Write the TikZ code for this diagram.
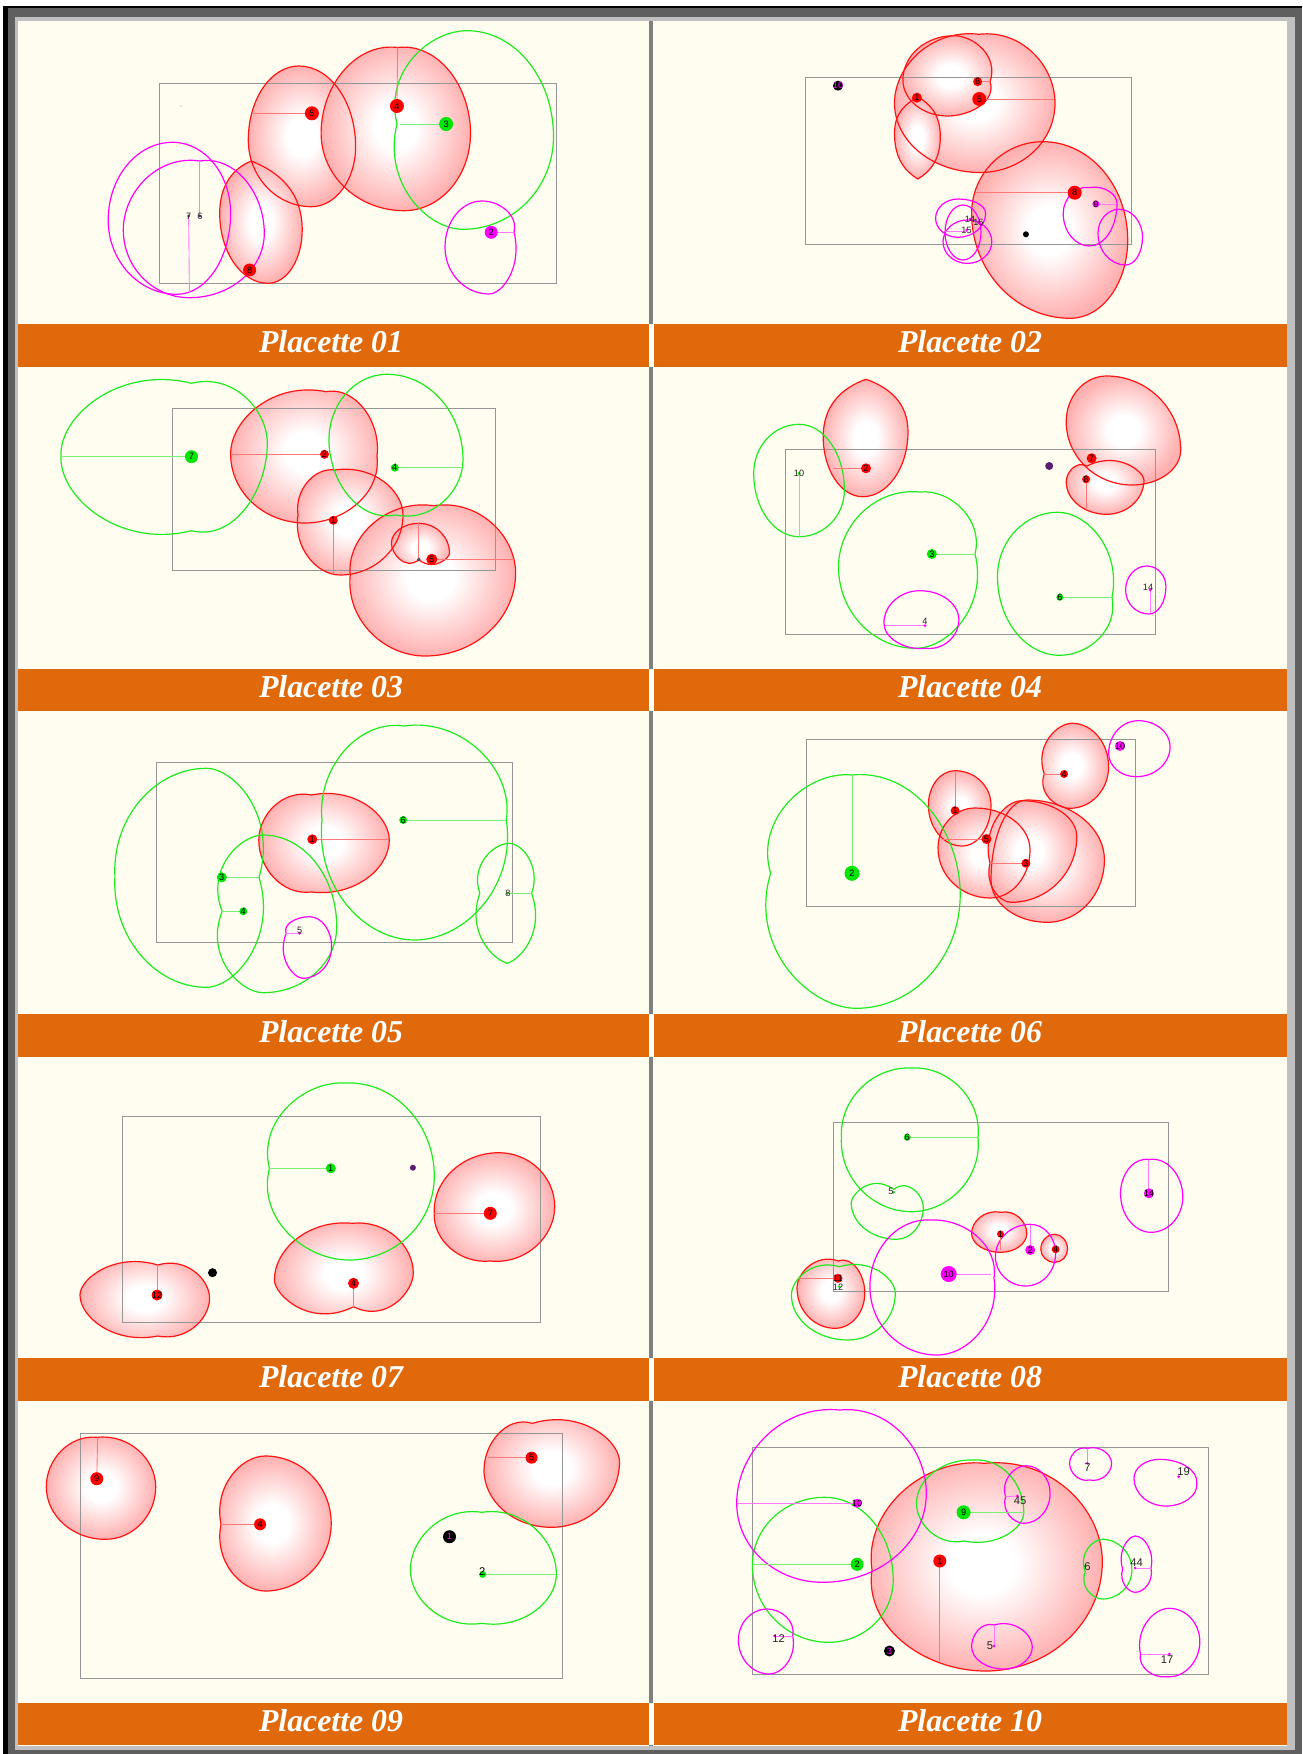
\documentclass[tikz,border=0pt]{standalone}
\usepackage{fontspec}
\setmainfont{Liberation Serif}
\newfontfamily\lblfont{Liberation Sans}
\definecolor{cream}{RGB}{255,253,240}
\definecolor{barorange}{RGB}{224,106,11}
\definecolor{crownpink}{RGB}{255,176,176}
\definecolor{gline}{RGB}{30,235,30}
\definecolor{mline}{RGB}{255,0,255}
\definecolor{rline}{RGB}{255,20,20}
\definecolor{rrad}{RGB}{255,120,120}
\definecolor{grad}{RGB}{120,240,120}
\definecolor{mrad}{RGB}{255,120,255}
\definecolor{boxgrey}{RGB}{150,150,150}
\definecolor{darkframe}{RGB}{95,95,95}
\definecolor{lightframe}{RGB}{192,192,192}
\definecolor{divgrey}{RGB}{128,128,128}
\definecolor{dotgreen}{RGB}{0,230,0}
\definecolor{dotpurple}{RGB}{90,30,110}
\pgfdeclareradialshading{crownsh}{\pgfpoint{0bp}{0bp}}{color(0bp)=(white); color(7bp)=(white); color(25bp)=(crownpink); color(50bp)=(crownpink)}
\def\kk{0.5523}
\newcommand\setnotch[4]{\gdef\tT{#1}\gdef\tR{#2}\gdef\tB{#3}\gdef\tL{#4}}
\setnotch{0}{0}{0}{0}
\def\blob#1(#2,#3)(#4,#5)(#6,#7)(#8,#9){%
  \path[#1] (#2,#3)
   .. controls ({#2+\kk*(#4-#2)},{#3-\tT*\kk*(#4-#2)}) and ({#4+\tR*\kk*(#5-#3)},{#5-\kk*(#5-#3)}) .. (#4,#5)
   .. controls ({#4+\tR*\kk*(#7-#5)},{#5+\kk*(#7-#5)}) and ({#6+\kk*(#4-#6)},{#7+\tB*\kk*(#4-#6)}) .. (#6,#7)
   .. controls ({#6-\kk*(#6-#8)},{#7+\tB*\kk*(#6-#8)}) and ({#8-\tL*\kk*(#7-#9)},{#9+\kk*(#7-#9)}) .. (#8,#9)
   .. controls ({#8-\tL*\kk*(#9-#3)},{#9-\kk*(#9-#3)}) and ({#2-\kk*(#2-#8)},{#3-\tT*\kk*(#2-#8)}) .. (#2,#3) -- cycle;%
  \setnotch{0}{0}{0}{0}}
% dot: #1 fill, #2 x, #3 y, #4 radius, #5 text, #6 text colour, #7 name
\newcommand\dt[7]{\fill[#1] (#2,#3) circle[radius=#4]; \node[lbl, text=#6] (#7) at (#2,#3) {#5};}
% tiny dot with label: [#1 label style] #2 colour, #3 x, #4 y, #5 lx, #6 ly, #7 text, #8 name
\newcommand\td[8][lbl]{\fill[#2] (#3,#4) circle[radius=1.5]; \node[#1, text=black!85] (#8) at (#5,#6) {#7};}
\tikzset{
 rf/.style={shade, shading=crownsh},
 rl/.style={draw=rline, line width=0.6pt},
 gl/.style={draw=gline, line width=0.6pt},
 ml/.style={draw=mline, line width=0.6pt},
 rrl/.style={draw=rrad, line width=0.45pt},
 grl/.style={draw=grad, line width=0.45pt},
 mrl/.style={draw=mrad, line width=0.45pt},
 plotbox/.style={draw=boxgrey, line width=0.5pt},
 lbl/.style={font=\lblfont\fontsize{4.6}{5}\selectfont, inner sep=0pt},
 bigl/.style={font=\lblfont\fontsize{5.6}{6}\selectfont, inner sep=0pt},
 titletext/.style={font=\bfseries\itshape\fontsize{15.9}{18}\selectfont, text=white, anchor=base, inner sep=0pt},
}
\newcommand\RedA{%
\blob{cur}(298.8,66)(355.6,146.7)(311.4,206.7)(248.3,140)%
\setnotch{0.12}{0}{0}{0}\blob{cur}(397.7,47.5)(470.5,133.3)(404,210.7)(321.1,133.3)%
\setnotch{-0.4}{0}{0}{0}\blob{cur}(251.3,161)(302.2,230)(268.1,283.3)(219.7,213.3)}
\newcommand\RedB{%
\setnotch{0.12}{0}{0}{0}\blob{cur}(979,34.3)(1055,103.3)(980,172.5)(894.5,103.3)%
\setnotch{0}{0.35}{0}{0}\blob{cur}(953.8,35.7)(990,81.7)(947.5,116)(902.9,80)%
\setnotch{-0.6}{0}{-0.6}{0}\blob{cur}(917.8,96.7)(940.3,136.7)(917.8,179)(894.5,133.3)%
\blob{cur}(1043,141.7)(1127.7,240)(1070.4,318.3)(971.6,213.3)}
\newcommand\RedC{%
\setnotch{0.2}{0.12}{0}{0}\blob{cur}(326,391.7)(377,456)(305,523)(230.6,454)%
\setnotch{0.15}{0}{0}{0.15}\blob{cur}(335,470)(403,515)(340,575)(298,515)%
\setnotch{0.15}{0}{0}{0.1}\blob{cur}(433.5,505.7)(515.6,573)(425,656)(350.2,575)%
\setnotch{0}{0}{0.7}{0}\blob{cur}(418.8,523.3)(449.5,553.3)(418.8,560)(391.4,543.3)}
\newcommand\RedD{%
\setnotch{-0.35}{0}{0}{0}\blob{cur}(866,379.3)(908,431.7)(862.6,496.7)(823.2,436.7)%
\blob{cur}(1106.5,376)(1180.7,450)(1132,485)(1066.2,421.7)%
\setnotch{0.5}{0}{0}{0}\blob{cur}(1087,466)(1144,480)(1106.5,514.3)(1066.2,481.7)}
\newcommand\RedE{%
\setnotch{0.2}{0}{0.12}{0}\blob{cur}(311.4,795)(389.3,840)(311.4,892)(258.8,840)}
\newcommand\RedF{%
\blob{cur}(955,770.7)(991,805)(962,846)(928.4,805)%
\blob{cur}(975,808)(1030,850)(990,898)(938,848)%
\blob{cur}(1027,800)(1104.4,860)(1047.1,922.3)(991,880)%
\setnotch{0}{0}{0}{0.25}\blob{cur}(1021.7,800.7)(1076.8,836.7)(1011.1,902.3)(990,863.3)%
\setnotch{0}{0}{0}{0.35}\blob{cur}(1072,723.3)(1108.6,766.7)(1070,808.3)(1044.2,774)}
\newcommand\RedG{%
\setnotch{0}{0}{0.1}{0.05}\blob{cur}(498.7,1152.7)(554.7,1206.7)(490.3,1261)(434.3,1213.3)%
\setnotch{0.1}{0}{0.5}{0}\blob{cur}(352.7,1223.3)(413.3,1273)(353.5,1306.7)(274.4,1280)%
\setnotch{0.3}{0}{0.2}{0}\blob{cur}(157.8,1265)(209.6,1298)(157.8,1336)(80,1295)}
\newcommand\RedH{%
\setnotch{0.2}{0}{0}{0}\blob{cur}(1000.5,1212.3)(1026.8,1233.3)(1000.5,1252.3)(971.6,1233.3)%
\blob{cur}(1054.8,1234.3)(1067.5,1249.3)(1054.8,1262.3)(1040.8,1249.3)%
\setnotch{0.35}{0}{0}{0}\blob{cur}(838.5,1261)(864.8,1293)(835,1328.3)(797,1288)}
\newcommand\RedI{%
\setnotch{0.1}{0}{0}{0}\blob{cur}(97.6,1437.3)(155.7,1486.7)(105.2,1539.3)(46.3,1486.7)%
\setnotch{0}{0}{0}{0.2}\blob{cur}(265.2,1456)(331.2,1523.3)(265.2,1591)(221,1524.3)%
\setnotch{0.3}{0}{0}{0}\blob{cur}(532.4,1423.3)(619.5,1461.7)(551.3,1527.3)(484,1470)}
\newcommand\RedJ{%
\setnotch{0.1}{0}{0}{0.15}\blob{cur}(985,1463.3)(1102.3,1561.7)(985.6,1671)(872,1570)}
\begin{document}
\begin{tikzpicture}[x=0.5pt,y=-0.5pt]
\useasboundingbox (0,0) rectangle (1302,1754);
% frame
\fill[white] (0,0) rectangle (1302,1754);
\fill[black] (3.4,6) rectangle (1302,1754);
\fill[darkframe] (7.6,8.3) rectangle (1302,1754);
\fill[lightframe] (14.7,16.7) rectangle (1295.2,1750);
\fill[cream] (17.7,20.7) rectangle (1286.7,1746);
\fill[divgrey] (648.5,20.7) rectangle (652.7,1746);
\foreach \bt/\k in {324/0,668.7/1,1014/2,1358.3/3,1702.7/4}{
  \fill[white] (648.5,\bt) rectangle (653.5,\bt+42.7);
  \fill[barorange] (17.7,\bt) rectangle (648.5,\bt+42.7);
  \fill[barorange] (653.5,\bt) rectangle (1286.7,\bt+42.7);
}
\node[titletext] (t01) at (331,352.7) {Placette 01};
\node[titletext] (t02) at (970,352.7) {Placette 02};
\node[titletext] (t03) at (331,697.4) {Placette 03};
\node[titletext] (t04) at (970,697.4) {Placette 04};
\node[titletext] (t05) at (331,1042.7) {Placette 05};
\node[titletext] (t06) at (970,1042.7) {Placette 06};
\node[titletext] (t07) at (331,1387) {Placette 07};
\node[titletext] (t08) at (970,1387) {Placette 08};
\node[titletext] (t09) at (331,1731.4) {Placette 09};
\node[titletext] (t10) at (970,1731.4) {Placette 10};
% ---------- Panel 1
\begin{scope}
\clip (17.7,20.7) rectangle (648.5,324);
\tikzset{cur/.style=rf}\RedA
\draw[plotbox] (159.5,84) rectangle (556.8,283.3);
\tikzset{cur/.style=rl}\RedA
\setnotch{0}{0}{0}{0.25}\blob{gl}(467.2,30.7)(553.5,136.7)(463,229.3)(397,124)
\setnotch{0}{0.25}{0}{0}\blob{ml}(482,201)(514,232.3)(489,294)(445,247)
\blob{ml}(172.6,142.3)(230.6,213.3)(176.8,294.3)(108.2,220)
\setnotch{0.15}{0}{0}{0}\blob{ml}(199.9,161)(264.3,233.3)(189.4,297.7)(123.3,230)
\draw[rrl] (311.9,113.3) -- (252.5,113.3);
\draw[rrl] (396.9,106) -- (397.7,47.5);
\draw[grl] (446.1,124) -- (399.8,124);
\draw[mrl] (491.2,232.3) -- (514,232.3);
\draw[mrl] (199.9,216) -- (199.9,161);
\draw[mrl] (188.6,216) -- (189.4,293.3);
\dt{red}{311.9}{113.3}{7}{5}{black}{p1n5}
\dt{red}{396.9}{106}{7}{4}{black}{p1n4}
\dt{dotgreen}{446.1}{124}{7}{3}{black}{p1n3}
\dt{mline}{491.2}{232.3}{6.5}{2}{black}{p1n2}
\dt{red}{249.6}{270}{6.5}{8}{black}{p1n8}
\td{dotpurple}{188.6}{216}{188.6}{216}{7}{p1n7}
\td{dotpurple}{199.9}{216}{199.9}{216}{6}{p1n6}
\fill[black!40] (181,106) circle[radius=0.6];
\end{scope}
% ---------- Panel 2
\begin{scope}
\clip (653.5,20.7) rectangle (1286.7,324);
\tikzset{cur/.style=rf}\RedB
\draw[plotbox] (805,77.7) rectangle (1131.5,244.3);
\tikzset{cur/.style=rl}\RedB
\blob{ml}(958,199)(985.6,213.3)(958,237.3)(935.6,218.3)
\blob{ml}(963,205)(981,232.3)(963,260)(945,232.3)
\blob{ml}(967.4,220)(991.8,241.7)(967.4,263.4)(943,241.7)
\setnotch{0.15}{0}{0}{0}\blob{ml}(1090,187.5)(1117,203.3)(1089.5,246)(1063.2,213.3)
\blob{ml}(1119.2,209.3)(1142.5,237.3)(1125.6,265)(1098,233.3)
\draw[rrl] (977.6,81.7) -- (990,81.7);
\draw[rrl] (979.3,99) -- (1053.5,99);
\draw[rrl] (1074.7,192.7) -- (975,192.7);
\draw[mrl] (1095.9,204) -- (1115,204);
\draw[mrl] (966.5,231) -- (945.3,231);
\dt{black}{838}{85.7}{5}{10}{mline}{p2n10}
\dt{red}{977.6}{81.7}{4.5}{6}{black}{p2n6}
\dt{red}{979.3}{99}{7}{5}{black}{p2n5}
\dt{red}{916.9}{97.7}{5}{1}{black}{p2n1}
\dt{red}{1074.7}{192.7}{7}{8}{black}{p2n8}
\dt{mline}{1095.9}{204}{3.5}{9}{black}{p2n9}
\dt{black}{1025.9}{234.3}{3}{}{black}{p2n0}
\td{mline}{970}{219}{970}{219}{14}{p2n14}
\td{mline}{978.4}{222.7}{978.4}{222.7}{16}{p2n16}
\td{mline}{966.5}{230}{966.5}{230}{15}{p2n15}
\end{scope}
% ---------- Panel 3
\begin{scope}
\clip (17.7,366.7) rectangle (648.5,668.7);
\tikzset{cur/.style=rf}\RedC
\draw[plotbox] (172.6,408.7) rectangle (495.4,570.3);
\tikzset{cur/.style=rl}\RedC
\setnotch{0.25}{0}{0.25}{0.05}\blob{gl}(191.5,383.3)(267.3,443)(191.5,530.7)(61,456)
\setnotch{0}{0}{0.2}{0}\blob{gl}(387,374.3)(463,460)(395.6,515)(329,440)
\draw[grl] (191.5,456.7) -- (61,456.7);
\draw[rrl] (324.5,454.3) -- (230.6,454.3);
\draw[rrl] (333.3,520.3) -- (333.3,573.3);
\draw[rrl] (418.8,559.3) -- (418.8,523.3);
\draw[rrl] (431.8,559.3) -- (514.3,559.3);
\draw[grl] (394.8,467.7) -- (463,467.7);
\dt{dotgreen}{191.5}{456.7}{6.5}{7}{black}{p3n7}
\dt{red}{324.5}{454.3}{4.5}{2}{black}{p3n2}
\dt{dotgreen}{394.8}{467.7}{4}{4}{black}{p3n4}
\dt{red}{333.3}{520.3}{4.5}{1}{black}{p3n1}
\dt{red}{431.8}{559.3}{5.5}{5}{black}{p3n5}
\dt{black!70}{418.8}{559.3}{1.8}{}{black}{p3n3}
\end{scope}
% ---------- Panel 4
\begin{scope}
\clip (653.5,366.7) rectangle (1286.7,668.7);
\tikzset{cur/.style=rf}\RedD
\draw[plotbox] (785.5,450) rectangle (1155.3,634.3);
\tikzset{cur/.style=rl}\RedD
\blob{gl}(799,424.3)(844.4,490)(799,536.7)(753.7,473.3)
\setnotch{0.1}{0.25}{0}{0}\blob{gl}(920,492)(975,554)(915.7,648.3)(838.5,566.7)
\setnotch{0}{0.2}{0}{0}\blob{gl}(1057.7,512.3)(1112,597.3)(1059.8,655.3)(997.5,576.7)
\setnotch{0}{0}{0.1}{0}\blob{ml}(919.9,590.7)(958.9,620)(926.3,648.3)(883.9,623.3)
\blob{ml}(1146.8,566)(1165.9,586.7)(1148.9,614)(1125.6,590)
\draw[rrl] (866,468.3) -- (834.2,468.3);
\draw[grl] (799,473.3) -- (799,536.7);
\draw[grl] (931.8,554) -- (974.2,554);
\draw[mrl] (925,625.7) -- (885,625.7);
\draw[grl] (1059.8,597.3) -- (1112,597.3);
\draw[mrl] (1150.2,590) -- (1150.2,612.7);
\draw[rrl] (1086.1,479.3) -- (1086.1,510);
\dt{red}{866}{468.3}{5}{2}{black}{p4n2}
\td{dotgreen}{799}{473.3}{799}{473.3}{10}{p4n10}
\dt{dotgreen}{931.8}{554}{5}{3}{black}{p4n3}
\td{mline}{925}{625.7}{925}{621}{4}{p4n4}
\dt{dotgreen}{1059.8}{597.3}{3.5}{6}{black}{p4n6}
\td{mline}{1150.2}{590}{1148}{587}{14}{p4n14}
\dt{red}{1091.6}{458.3}{5}{7}{black}{p4n7}
\dt{red}{1086.1}{479.3}{4}{8}{black}{p4n8}
\dt{dotpurple}{1049.2}{466}{4}{}{black}{p4n9}
\end{scope}
% ---------- Panel 5
\begin{scope}
\clip (17.7,711.7) rectangle (648.5,1014);
\tikzset{cur/.style=rf}\RedE
\draw[plotbox] (156.6,762.3) rectangle (512.2,942.3);
\tikzset{cur/.style=rl}\RedE
\setnotch{0}{0.3}{0}{0.05}\blob{gl}(206.2,768.3)(259,877.3)(206.2,987.3)(114.9,876.7)
\setnotch{0}{0}{0}{0.4}\blob{gl}(263,835)(336.7,926.7)(263,992.7)(222.2,911.3)
\setnotch{0.15}{0.15}{0}{0.1}\blob{gl}(404,726)(506.3,820)(414.6,940)(322,820)
\setnotch{0}{0.35}{-0.3}{0.35}\blob{gl}(509.3,843.3)(531.6,893.3)(507.2,963.3)(479.8,893.3)
\setnotch{0}{0}{0}{0.4}\blob{ml}(309.3,916.7)(331.6,946.7)(303,978.3)(286.2,933.3)
\draw[grl] (221.8,877.3) -- (259,877.3);
\draw[grl] (243.3,911.3) -- (222.2,911.3);
\draw[rrl] (312.3,839.3) -- (389.3,839.3);
\draw[grl] (403.2,820) -- (506.3,820);
\draw[grl] (507.2,893.3) -- (531.6,893.3);
\draw[mrl] (299.7,933.3) -- (286.2,933.3);
\dt{dotgreen}{221.8}{877.3}{5}{3}{black}{p5n3}
\dt{dotgreen}{243.3}{911.3}{4}{4}{black}{p5n4}
\dt{red}{312.3}{839.3}{5}{1}{black}{p5n1}
\dt{dotgreen}{403.2}{820}{4}{6}{black}{p5n6}
\td{dotgreen}{507.2}{893.3}{508}{893.3}{8}{p5n8}
\td{mline}{299.7}{933.3}{299.7}{930.5}{5}{p5n5}
\end{scope}
% ---------- Panel 6
\begin{scope}
\clip (653.5,711.7) rectangle (1286.7,1014);
\tikzset{cur/.style=rf}\RedF
\draw[plotbox] (806.7,739.7) rectangle (1135.3,906.3);
\tikzset{cur/.style=rl}\RedF
\setnotch{0.1}{0}{0}{0.3}\blob{gl}(852,775)(960.2,895)(856.3,1008.3)(770.6,873.3)
\blob{ml}(1138.3,720.7)(1170.1,746.7)(1136.2,776.7)(1108.6,753.3)
\draw[grl] (852,873.3) -- (852,775);
\draw[rrl] (955.1,810.7) -- (955.1,770.7);
\draw[rrl] (986.5,839) -- (942,839);
\draw[rrl] (1025.9,863.3) -- (991.1,863.3);
\draw[rrl] (1064.1,774) -- (1044.2,774);
\dt{dotgreen}{852}{873.3}{7.5}{2}{black}{p6n2}
\dt{red}{955.1}{810.7}{4.5}{1}{black}{p6n1}
\dt{red}{986.5}{839}{5}{5}{black}{p6n5}
\dt{red}{1025.9}{863.3}{4.5}{3}{black}{p6n3}
\dt{red}{1064.1}{774}{4}{4}{black}{p6n4}
\dt{mline}{1120}{746}{5}{10}{black}{p6n10}
\end{scope}
% ---------- Panel 7
\begin{scope}
\clip (17.7,1056.7) rectangle (648.5,1358.3);
\tikzset{cur/.style=rf}\RedG
\draw[plotbox] (122.9,1116.7) rectangle (540,1322.3);
\tikzset{cur/.style=rl}\RedG
\setnotch{0.05}{0}{0}{0.25}\blob{gl}(345,1083)(434.3,1176)(349,1260)(269.4,1168.3)
\draw[grl] (330.8,1168.3) -- (269.4,1168.3);
\draw[rrl] (490.3,1213.3) -- (434.3,1213.3);
\draw[rrl] (353.5,1283.3) -- (353.5,1306.7);
\draw[rrl] (157,1295) -- (157,1265);
\dt{dotgreen}{330.8}{1168.3}{5}{1}{black}{p7n1}
\dt{red}{490.3}{1213.3}{6.5}{7}{black}{p7n7}
\dt{red}{353.5}{1283.3}{5.5}{4}{black}{p7n4}
\dt{red}{157}{1295}{5.5}{12}{black}{p7n12}
\dt{black}{212.5}{1272.7}{4.5}{}{black}{p7n0}
\dt{dotpurple}{412.9}{1167.7}{3}{}{black}{p7n9}
\end{scope}
% ---------- Panel 8
\begin{scope}
\clip (653.5,1056.7) rectangle (1286.7,1358.3);
\tikzset{cur/.style=rf}\RedH
\draw[plotbox] (833.8,1122) rectangle (1168,1291);
\tikzset{cur/.style=rl}\RedH
\setnotch{0.05}{0.1}{0}{0.05}\blob{gl}(912,1068)(978,1137.3)(911.4,1211.7)(841.4,1137.3)
\setnotch{0.7}{0}{0}{0}\blob{gl}(893.6,1189.3)(923.3,1206.7)(896.6,1239.3)(851.2,1202.7)
\setnotch{0.3}{0}{0}{0}\blob{gl}(839.3,1266.7)(895.3,1293.3)(847.8,1340)(791.4,1295)
\setnotch{0.05}{0.15}{0}{0}\blob{ml}(930,1220)(994,1278)(936.9,1355)(869.9,1286.7)
\blob{ml}(1030.2,1224.3)(1055.6,1253.3)(1025.9,1286)(995.4,1256.7)
\setnotch{0.15}{0}{0}{0}\blob{ml}(1149,1159.5)(1182.8,1196.7)(1151,1232.3)(1120.5,1193.3)
\draw[grl] (907.2,1137.3) -- (978,1137.3);
\draw[mrl] (948.7,1274.5) -- (991,1274.5);
\draw[mrl] (1030.2,1250) -- (1030.2,1225);
\draw[mrl] (1148.9,1193.3) -- (1148.9,1160);
\draw[rrl] (838,1278.3) -- (799,1278.3);
\draw[rrl] (1000.5,1234) -- (1000.5,1250);
\dt{dotgreen}{907.2}{1137.3}{3.5}{6}{black}{p8n6}
\td{dotgreen}{893.6}{1192.3}{891}{1191}{5}{p8n5}
\dt{red}{1000.5}{1234}{3.5}{1}{black}{p8n1}
\dt{mline}{1030.2}{1250}{5}{2}{black}{p8n2}
\dt{red}{1055.6}{1249.3}{4}{4}{black}{p8n4}
\dt{mline}{1148.9}{1193.3}{5}{14}{black}{p8n14}
\dt{mline}{948.7}{1274}{8}{10}{black}{p8n10}
\dt{red}{838}{1278.3}{4.5}{11}{black}{p8n11}
\td{dotgreen}{839.3}{1286.7}{838}{1287}{12}{p8n12}
\end{scope}
% ---------- Panel 9
\begin{scope}
\clip (17.7,1400.7) rectangle (648.5,1702.7);
\tikzset{cur/.style=rf}\RedI
\draw[plotbox] (80,1433.3) rectangle (562.7,1678.3);
\tikzset{cur/.style=rl}\RedI
\setnotch{0.15}{0}{0.15}{0}\blob{gl}(481.9,1512.3)(556.4,1574.3)(481.9,1623.3)(410.4,1570)
\draw[rrl] (96.8,1478.7) -- (97.6,1437.3);
\draw[rrl] (260.1,1524.3) -- (221,1524.3);
\draw[rrl] (531.6,1457.7) -- (488.2,1457.7);
\draw[grl] (482.7,1574.3) -- (555.6,1574.3);
\dt{red}{96.8}{1478.7}{6.5}{9}{black}{p9n9}
\dt{red}{260.1}{1524.3}{6}{4}{black}{p9n4}
\dt{red}{531.6}{1457.7}{6}{5}{black}{p9n5}
\dt{dotgreen}{482.7}{1574.3}{3.5}{}{black}{p9g2}
\node[bigl] (p9n2) at (482.3,1571.5) {2};
\dt{black}{449.5}{1536.7}{6.5}{1}{mline}{p9n1}
\end{scope}
% ---------- Panel 10
\begin{scope}
\clip (653.5,1400.7) rectangle (1286.7,1702.7);
\tikzset{cur/.style=rf}\RedJ
\draw[plotbox] (752.4,1447.7) rectangle (1208.3,1674.3);
\tikzset{cur/.style=rl}\RedJ
\blob{gl}(824.5,1497.3)(893.2,1580)(828.7,1642.3)(752.4,1565)
\setnotch{0.05}{0}{0.2}{0}\blob{gl}(975,1460)(1023.8,1512.3)(964.4,1541)(916.5,1503.3)
\setnotch{0}{0}{0}{0.4}\blob{gl}(1102.3,1539.3)(1131.9,1570)(1102.3,1599)(1085.3,1571.7)
\setnotch{0.1}{0}{0}{0}\blob{ml}(840,1410)(926.3,1493.3)(822.4,1582.3)(736.7,1503.3)
\setnotch{0}{0}{0}{0.3}\blob{ml}(1025.9,1465.7)(1050.1,1493.3)(1023.8,1523.3)(1005.6,1496.7)
\setnotch{0.25}{0}{0.2}{0}\blob{ml}(1087.4,1448.3)(1111.6,1463.3)(1089.5,1480)(1069.6,1463.3)
\setnotch{0}{0.1}{0}{0}\blob{ml}(1159.5,1459.3)(1196.8,1483.3)(1165.9,1506)(1134,1478.3)
\setnotch{0}{0.2}{0}{0.3}\blob{ml}(1135.3,1536)(1151,1568)(1135.3,1592.3)(1122.6,1569)
\setnotch{0}{0.2}{0}{0}\blob{ml}(767.2,1609)(792.7,1636)(769.3,1674)(738.4,1640)
\setnotch{0.3}{0}{0}{0}\blob{ml}(994.1,1625)(1032.3,1646.7)(1003.9,1669)(971.6,1646.7)
\setnotch{0}{0}{0.1}{0.2}\blob{ml}(1169.3,1608.3)(1199.8,1641.7)(1165.9,1676.7)(1140.4,1654)
\draw[mrl] (857.1,1503.3) -- (736.7,1503.3);
\draw[grl] (857.1,1564.3) -- (753.7,1564.3);
\draw[rrl] (939.8,1561) -- (939.8,1661.7);
\draw[grl] (963.6,1512.3) -- (1023.8,1512.3);
\draw[mrl] (1087.4,1463.3) -- (1087.4,1448.3);
\draw[mrl] (1135,1568.3) -- (1151,1568.3);
\draw[mrl] (774.9,1636) -- (792.7,1636);
\draw[mrl] (994.1,1646) -- (994.1,1625);
\draw[mrl] (1169.3,1654) -- (1141.3,1654);
\draw[mrl] (1017.4,1496) -- (1005.6,1496.7);
\dt{mline}{857.1}{1503.3}{4.5}{10}{black}{p10n10}
\dt{dotgreen}{857.1}{1564.3}{6.5}{2}{black}{p10n2}
\dt{red}{939.8}{1561}{6.5}{1}{black}{p10n1}
\dt{dotgreen}{963.6}{1512.3}{7}{9}{black}{p10n9}
\dt{black}{889.4}{1651}{5.5}{3}{mline}{p10n3}
\td[bigl]{mline}{1017.4}{1496}{1020}{1501}{45}{p10n45}
\td[bigl]{mline}{1087.4}{1463.3}{1087.4}{1467.5}{7}{p10n7}
\td[bigl]{mline}{1178.6}{1476.7}{1183.5}{1472}{19}{p10n19}
\td[bigl]{dotgreen}{1085.3}{1566}{1087.4}{1567}{6}{p10n6}
\td[bigl]{mline}{1135}{1568}{1136.5}{1562.5}{44}{p10n44}
\td[bigl]{mline}{774.9}{1636}{778.7}{1638.5}{12}{p10n12}
\td[bigl]{mline}{994.1}{1646}{990}{1646}{5}{p10n5}
\td[bigl]{mline}{1169.3}{1654}{1167.1}{1659.5}{17}{p10n17}
\end{scope}
\end{tikzpicture}
\end{document}
